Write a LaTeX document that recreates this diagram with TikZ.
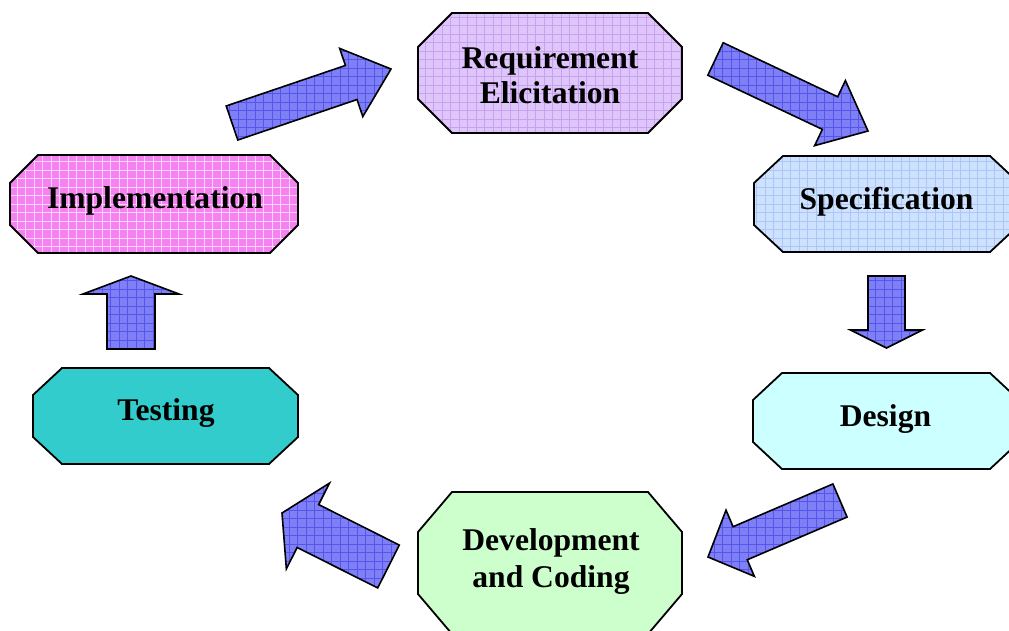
\documentclass[tikz,border=0pt]{standalone}
\usepackage{fontspec}
\setmainfont{Liberation Serif}
\usetikzlibrary{calc}

% colours
\definecolor{arrowblue}{RGB}{128,128,246}
\definecolor{arrowgrid}{RGB}{84,84,238}
\definecolor{reqfill}{RGB}{222,198,250}
\definecolor{reqgrid}{RGB}{200,160,240}
\definecolor{specfill}{RGB}{206,226,255}
\definecolor{specgrid}{RGB}{170,200,245}
\definecolor{implfill}{RGB}{244,130,240}
\definecolor{implgrid}{RGB}{255,210,255}
\definecolor{designfill}{RGB}{204,255,255}
\definecolor{testfill}{RGB}{51,204,204}
\definecolor{devfill}{RGB}{204,255,204}

\tikzset{
  outline/.style={draw=black, line width=1.8pt, line join=miter},
  gridfill/.style 2 args={fill=#1,
    path picture={\draw[draw=#2, line width=0.6pt]
      (path picture bounding box.south west) grid[step=8.5pt]
      (path picture bounding box.north east);}},
  arrowbody/.style={outline, line width=1.6pt, gridfill={arrowblue}{arrowgrid}},
  boxtext/.style={font=\fontsize{31.6pt}{35pt}\selectfont\bfseries,
    align=center, inner sep=0pt},
}

% octagonal box: style, x1, y1, x2, y2, horizontal cut, vertical cut
\newcommand\octbox[7]{%
  \draw[outline,#1] ({#2+#6},#3) -- ({#4-#6},#3) -- (#4,{#3+#7})
    -- (#4,{#5-#7}) -- ({#4-#6},#5) -- ({#2+#6},#5) -- (#2,{#5-#7})
    -- (#2,{#3+#7}) -- cycle;}

% block arrow: tail, tip, half shaft width, half head width, head length
\newcommand\blockarrow[5]{%
  \coordinate (#1-hb) at ($(#2)!#5!(#1)$);
  \draw[arrowbody] ($(#1)!#3!90:(#2)$) -- ($(#1-hb)!#3!90:(#2)$)
    -- ($(#1-hb)!#4!90:(#2)$) -- (#2) -- ($(#1-hb)!#4!-90:(#2)$)
    -- ($(#1-hb)!#3!-90:(#2)$) -- ($(#1)!#3!-90:(#2)$) -- cycle;}

\begin{document}
\begin{tikzpicture}[x=1pt, y=-1pt]
  \useasboundingbox (0,0) rectangle (1009,630);
  \clip (0,0) rectangle (1009,630);

  % boxes
  \octbox{gridfill={reqfill}{reqgrid}}{418}{13}{682}{133}{34}{34}
  \octbox{gridfill={specfill}{specgrid}}{754}{156}{1019}{252}{29}{27}
  \octbox{fill=designfill}{753}{373}{1019}{469}{29}{27}
  \octbox{fill=devfill}{418}{492}{682}{634}{34}{40}
  \octbox{fill=testfill}{33}{368}{298}{464}{29}{27}
  \octbox{gridfill={implfill}{implgrid}}{10}{155}{298}{253}{28}{28}

  % labels
  \node[boxtext] (req) at (550,75) {Requirement\\Elicitation};
  \node[boxtext] (spec) at (886.5,202) {Specification};
  \node[boxtext] (design) at (885.5,418.8) {Design};
  \node[boxtext, font=\fontsize{31.6pt}{37pt}\selectfont\bfseries]
    (dev) at (551,561.3) {Development\\and Coding};
  \node[boxtext] (test) at (166,412.8) {Testing};
  \node[boxtext] (impl) at (155,200.8) {Implementation};

  % arrow end points
  \coordinate (impl-out) at (232,123);    \coordinate (req-in) at (391,69);
  \coordinate (req-out) at (715.5,59);    \coordinate (spec-in) at (868,131);
  \coordinate (spec-out) at (886.5,276);  \coordinate (design-in) at (886.5,348);
  \coordinate (design-out) at (840,500.5);\coordinate (dev-in) at (708,557);
  \coordinate (dev-out) at (388.5,566.5); \coordinate (test-in) at (282,513);
  \coordinate (test-out) at (131,349);    \coordinate (impl-in) at (131,276);

  % arrows
  \blockarrow{impl-out}{req-in}{18pt}{36pt}{42pt}
  \blockarrow{req-out}{spec-in}{18pt}{36pt}{42pt}
  \blockarrow{spec-out}{design-in}{18.5pt}{36pt}{18pt}
  \blockarrow{design-out}{dev-in}{18pt}{36pt}{35pt}
  \blockarrow{dev-out}{test-in}{24pt}{48pt}{29pt}
  \blockarrow{test-out}{impl-in}{24pt}{48pt}{18pt}
\end{tikzpicture}
\end{document}
